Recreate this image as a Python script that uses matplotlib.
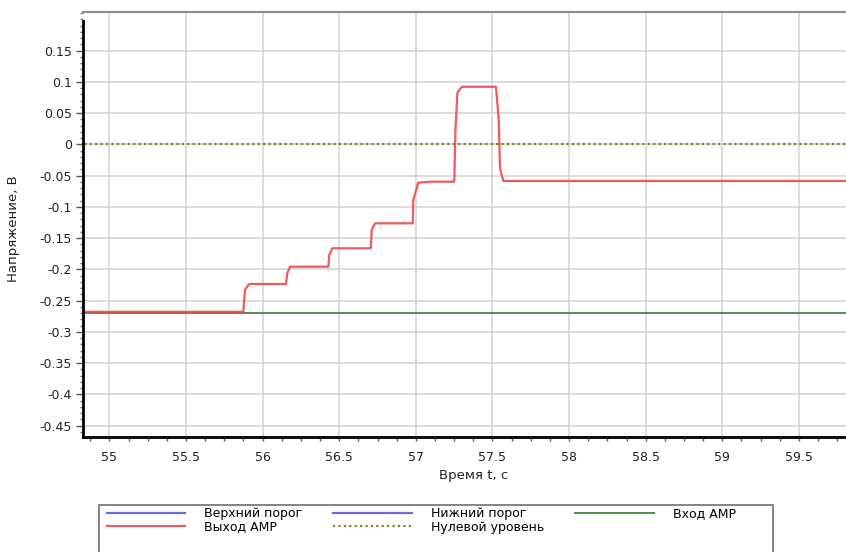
import matplotlib
matplotlib.use("Agg")
import matplotlib.pyplot as plt
from matplotlib.ticker import MultipleLocator
from matplotlib.patches import Rectangle

plt.rcParams['font.family'] = ['DejaVu Sans']
plt.rcParams['axes.unicode_minus'] = False

# Выход AMP - ступенчатый сигнал (время, напряжение)
t_out = [54.80, 55.874, 55.885, 55.913, 56.153, 56.161, 56.179, 56.429, 56.435, 56.455,
         56.706, 56.712, 56.734, 56.980, 56.983, 57.016, 57.092, 57.251, 57.258, 57.271,
         57.299, 57.523, 57.541, 57.549, 57.571, 59.85]
u_out = [-0.268, -0.268, -0.233, -0.2235, -0.2235, -0.2064, -0.1958, -0.1958, -0.177, -0.1664,
         -0.1664, -0.137, -0.1264, -0.1264, -0.089, -0.0614, -0.0598, -0.0598, 0.020, 0.0824,
         0.092, 0.092, 0.039, -0.038, -0.0587, -0.0587]

# Вход AMP и нулевой уровень
t_in = [54.80, 59.85]
u_in = [-0.270, -0.270]
t_zero = [54.80, 59.85]
u_zero = [0.0, 0.0]

x_ticks = [55, 55.5, 56, 56.5, 57, 57.5, 58, 58.5, 59, 59.5]
y_ticks = [0.15, 0.1, 0.05, 0, -0.05, -0.1, -0.15, -0.2, -0.25, -0.3, -0.35, -0.4, -0.45]

fig = plt.figure(figsize=(8.46, 5.52), dpi=100)
ax = fig.add_axes([83.3 / 846, (552 - 437.3) / 552, (846 - 83.3) / 846, (437.3 - 12.3) / 552])

# пороги в этом окне не попадают в диапазон, только в легенде
h_up, = ax.plot([], [], color='#6b6be0', lw=1.6, label='Верхний порог')
h_low, = ax.plot([], [], color='#6b6be0', lw=1.6, label='Нижний порог')
h_in, = ax.plot(t_in, u_in, color='#4f8f4f', lw=1.4, label='Вход AMP')
h_zero, = ax.plot(t_zero, u_zero, color='#7a7a10', lw=1.5, ls=(0, (1, 1.6)), label='Нулевой уровень')
h_out, = ax.plot(t_out, u_out, color='#ec4a4a', lw=1.6, alpha=0.9, label='Выход AMP')

ax.set_xlim(54.830, 59.807)
ax.set_ylim(-0.4688, 0.2112)

ax.set_xticks(x_ticks)
ax.set_xticklabels([f'{v:g}' for v in x_ticks])
ax.set_yticks(y_ticks)
ax.set_yticklabels([f'{v:g}' for v in y_ticks])
ax.xaxis.set_minor_locator(MultipleLocator(0.125))
ax.yaxis.set_minor_locator(MultipleLocator(0.01))

ax.grid(True, which='major', color='#d2d2d2', lw=1.1)
ax.set_axisbelow(True)

ax.tick_params(axis='x', which='both', length=3, width=1, color='#555555', pad=7,
               labelsize=9, labelcolor='#222222')
ax.tick_params(axis='y', which='major', length=5, width=1, color='#555555', pad=3,
               labelsize=9, labelcolor='#222222')
ax.tick_params(axis='y', which='minor', length=2.5, width=1, color='#777777')

for s in ['left', 'bottom']:
    ax.spines[s].set_color('black')
    ax.spines[s].set_linewidth(2)
ax.spines['left'].set_bounds(-0.4688, 0.197)
ax.spines['top'].set_color('#8a8a8a')
ax.spines['top'].set_linewidth(1.5)
ax.spines['right'].set_visible(False)

ax.set_xlabel('Время t, с', fontsize=9.5, color='#222222')
ax.set_ylabel('Напряжение, В', fontsize=9.5, color='#222222')
ax.xaxis.set_label_coords(0.512, -0.075)
ax.yaxis.set_label_coords(-0.083, 0.49)

# легенда под графиком, рамка уходит за нижний край
fig.patches.append(Rectangle((99 / 846, -0.05), (772.7 - 99) / 846, (552 - 505) / 552 + 0.05,
                             transform=fig.transFigure, fill=False, edgecolor='#7a7a7a', lw=1.3))
fig.legend(handles=[h_up, h_out, h_low, h_zero, h_in], ncol=3, frameon=False,
           loc='upper left', bbox_to_anchor=(99 / 846, 1 - 500 / 552),
           fontsize=9, handlelength=6.3, handletextpad=1.5, columnspacing=2.5,
           labelspacing=0.0, borderpad=0.1)

fig.savefig('out.png', dpi=100, facecolor='white')
